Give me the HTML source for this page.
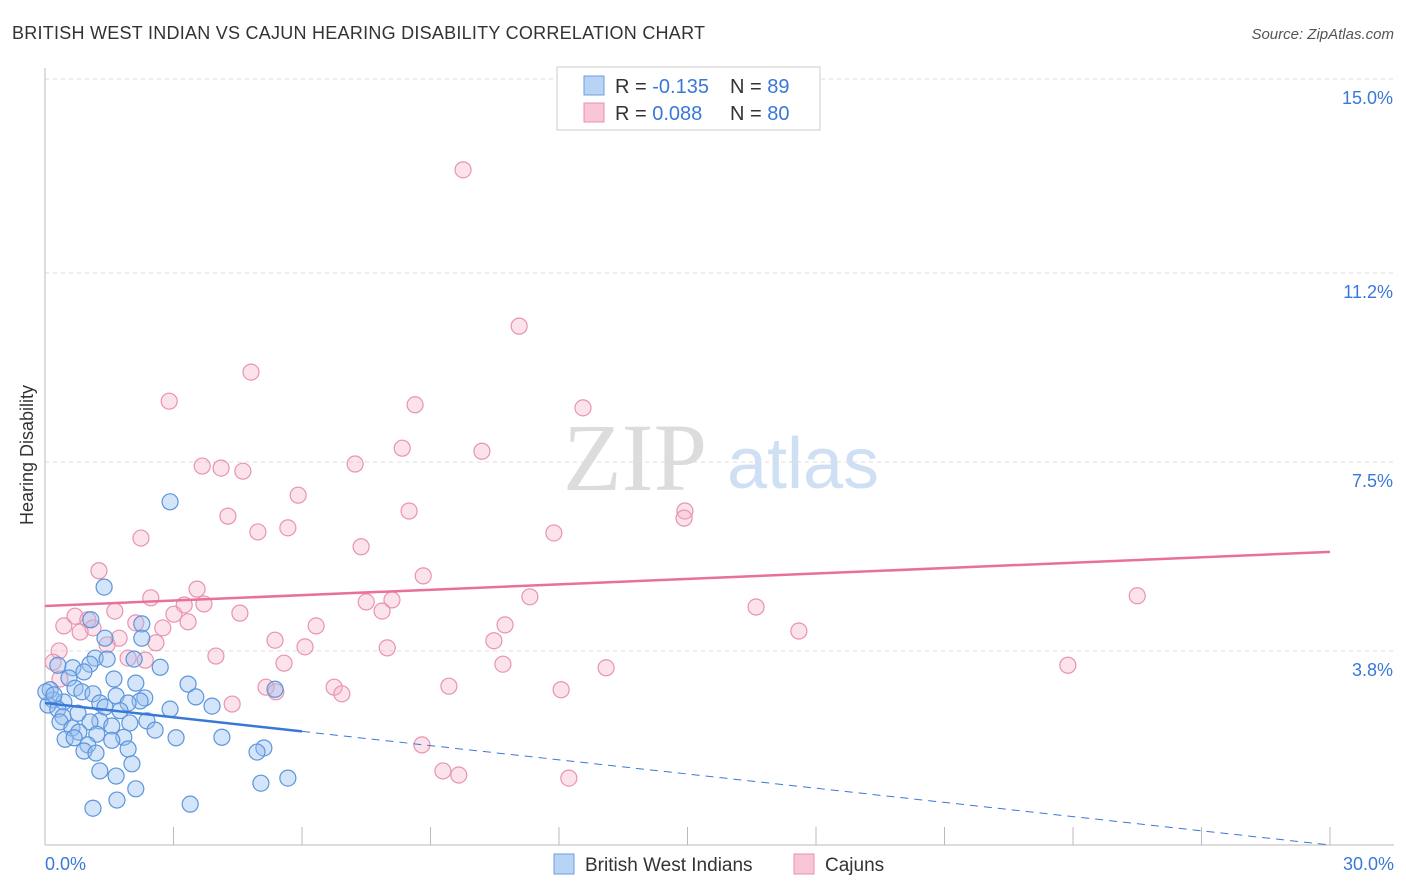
<!DOCTYPE html>
<html><head><meta charset="utf-8">
<style>
body{margin:0;background:#fff;font-family:"Liberation Sans",sans-serif;}
svg{display:block}
</style></head>
<body>
<svg id="chart" width="1406" height="892" xmlns="http://www.w3.org/2000/svg">
<text x="12" y="39" font-size="18" fill="#333" textLength="693">BRITISH WEST INDIAN VS CAJUN HEARING DISABILITY CORRELATION CHART</text>
<text x="1394" y="39" font-size="15" fill="#555" text-anchor="end" font-style="italic">Source: ZipAtlas.com</text>
<text x="33" y="455" font-size="18" fill="#333" text-anchor="middle" transform="rotate(-90 33 455)">Hearing Disability</text>
<g>
<text x="635" y="490" font-size="96" fill="#dcdcdc" font-family="Liberation Serif,serif" text-anchor="middle">ZIP</text>
<text x="803" y="488" font-size="72" fill="#cfe0f5" text-anchor="middle">atlas</text>
</g>
<g id="grid"></g>
<g id="axes"></g>
<g id="points"></g>
<g id="trend"></g>
<g>
<rect x="557" y="67" width="263" height="63" fill="#fff" stroke="#ccc"/>
<rect x="584" y="76" width="20" height="19" fill="#b9d3f5" stroke="#6a9fe0"/>
<rect x="584" y="103" width="20" height="19" fill="#f9c6d6" stroke="#e890ad"/>
<text x="615" y="93" font-size="20" fill="#333">R = <tspan fill="#3a78d8">-0.135</tspan></text>
<text x="730" y="93" font-size="20" fill="#333">N = <tspan fill="#3a78d8">89</tspan></text>
<text x="615" y="120" font-size="20" fill="#333">R = <tspan fill="#3a78d8"> 0.088</tspan></text>
<text x="730" y="120" font-size="20" fill="#333">N = <tspan fill="#3a78d8">80</tspan></text>
</g>
<g>
<rect x="554" y="854" width="20" height="20" fill="#b9d3f5" stroke="#6a9fe0"/>
<text x="585" y="871" font-size="19" fill="#333">British West Indians</text>
<rect x="794" y="854" width="20" height="20" fill="#f9c6d6" stroke="#e890ad"/>
<text x="825" y="871" font-size="19" fill="#333">Cajuns</text>
</g>
</svg>
<script>
const yTicks=[3.8,7.5,11.2,15.0];
const yTickLabels=["3.8%","7.5%","11.2%","15.0%"];
const xEnds=[0,30];
const xEndLabels=["0.0%","30.0%"];
const blueX=[2.92,1.38,1.07,2.26,1.40,2.26,1.17,1.45,2.08,1.05,0.65,0.30,2.69,0.91,0.56,1.61,2.12,3.34,0.70,0.12,0.86,1.12,1.66,5.37,2.33,3.52,2.22,0.19,0.44,1.28,1.94,0.07,1.40,0.30,2.92,3.90,1.75,0.77,0.42,2.38,1.28,0.35,1.05,1.98,0.63,1.56,0.79,2.57,1.21,1.84,3.06,4.13,0.47,1.56,0.68,1.00,0.91,1.94,1.19,5.11,4.95,2.03,1.28,1.66,5.67,5.04,2.12,1.68,1.12,3.39,0.02,0.21];
const blueY=[6.72,5.05,4.41,4.33,4.05,4.05,3.66,3.64,3.64,3.54,3.47,3.52,3.48,3.39,3.27,3.25,3.17,3.15,3.07,3.04,3.00,2.96,2.92,3.05,2.88,2.90,2.82,2.84,2.80,2.78,2.78,2.74,2.70,2.66,2.66,2.72,2.63,2.58,2.51,2.43,2.43,2.41,2.41,2.39,2.29,2.33,2.21,2.25,2.17,2.11,2.10,2.11,2.07,2.05,2.10,1.96,1.84,1.88,1.80,1.90,1.82,1.59,1.45,1.35,1.31,1.21,1.10,0.88,0.72,0.80,3.00,2.94];
const pinkX=[9.76,11.07,4.81,2.90,8.64,12.56,8.34,10.20,3.67,4.11,4.62,7.24,5.91,8.50,4.27,14.94,14.92,4.97,5.67,2.24,11.88,7.38,1.26,8.83,3.55,2.47,11.32,7.50,8.10,25.50,16.60,0.70,1.63,3.25,3.71,4.55,7.87,1.00,3.01,0.44,1.12,0.82,2.12,2.75,3.34,6.33,10.74,17.60,1.73,2.59,5.37,6.07,10.48,0.33,1.45,7.99,1.94,2.34,3.99,0.19,5.58,10.69,13.10,23.88,0.35,5.16,6.75,5.39,6.93,9.43,12.05,4.37,8.80,9.29,9.66,12.23];
const pinkY=[13.22,10.16,9.26,8.69,8.62,8.56,7.77,7.71,7.42,7.38,7.32,7.46,6.85,6.54,6.44,6.54,6.40,6.13,6.21,6.01,6.11,5.84,5.37,5.27,5.01,4.84,4.86,4.76,4.80,4.88,4.66,4.48,4.58,4.70,4.72,4.54,4.58,4.41,4.52,4.29,4.25,4.17,4.35,4.25,4.37,4.29,4.31,4.19,4.05,3.96,4.01,3.88,4.00,3.80,3.92,3.86,3.66,3.62,3.70,3.58,3.56,3.54,3.47,3.52,3.25,3.09,3.09,3.00,2.96,3.11,3.04,2.76,1.96,1.45,1.37,1.31];
const blueTrend=[2.78,0.0];   // y at x=0, x=30
const pinkTrend=[4.68,5.74];
const NS="http://www.w3.org/2000/svg";
const X0=45,X1=1330,Y0=845,PPY=51.07;
function sx(v){return X0+(v-xEnds[0])/(xEnds[1]-xEnds[0])*(X1-X0);}
function sy(v){return Y0-v*PPY;}
function mk(tag,attrs,parent){const e=document.createElementNS(NS,tag);for(const k in attrs)e.setAttribute(k,attrs[k]);parent.appendChild(e);return e;}
const grid=document.getElementById('grid'),axes=document.getElementById('axes');
yTicks.forEach((t,i)=>{
 const l=mk('line',{x1:X0,x2:1394,y1:sy(t),y2:sy(t),stroke:'#ddd','stroke-dasharray':'4,4'},grid);
 
 
 const tx=mk('text',{x:1393,y:sy(t)+25,'font-size':18,fill:'#3a78d8','text-anchor':'end'},axes);
 tx.textContent=yTickLabels[i];
 
 
});
const ax=mk('line',{x1:X0,x2:1394,y1:Y0,y2:Y0,stroke:'#bbb'},axes);


const ay=mk('line',{x1:X0,x2:X0,y1:68,y2:Y0,stroke:'#bbb'},axes);


for(let i=0;i<=10;i++){
 const v=xEnds[0]+i*(xEnds[1]-xEnds[0])/10;
 const t=mk('line',{x1:sx(v),x2:sx(v),y1:Y0-18,y2:Y0,stroke:'#bbb'},axes);
 
 
}
xEnds.forEach((v,i)=>{
 const t=mk('text',{x:i?1394:45,y:870,'font-size':18,fill:'#3a78d8','text-anchor':i?'end':'start'},axes);
 t.textContent=xEndLabels[i];
 
 
});
const pts=document.getElementById('points');
pinkX.forEach((x,i)=>{
 const c=mk('circle',{cx:sx(x),cy:sy(pinkY[i]),r:8,fill:'rgba(245,175,198,0.35)',stroke:'#e893b0','stroke-width':1.2},pts);
 
 
});
blueX.forEach((x,i)=>{
 const c=mk('circle',{cx:sx(x),cy:sy(blueY[i]),r:8,fill:'rgba(150,190,240,0.4)',stroke:'#5b95dc','stroke-width':1.2},pts);
 
 
});
const tr=document.getElementById('trend');
const byAt=x=>blueTrend[0]+(blueTrend[1]-blueTrend[0])*x/30;
const b1=mk('line',{x1:sx(0),y1:sy(byAt(0)),x2:sx(6),y2:sy(byAt(6)),stroke:'#3a78d8','stroke-width':2.5},tr);


const b2=mk('line',{x1:sx(6),y1:sy(byAt(6)),x2:sx(30),y2:sy(byAt(30)),stroke:'#3a78d8','stroke-width':1,'stroke-dasharray':'8,6'},tr);


const p1=mk('line',{x1:sx(0),y1:sy(pinkTrend[0]),x2:sx(30),y2:sy(pinkTrend[1]),stroke:'#e8709a','stroke-width':2.5},tr);


</script>
</body></html>
